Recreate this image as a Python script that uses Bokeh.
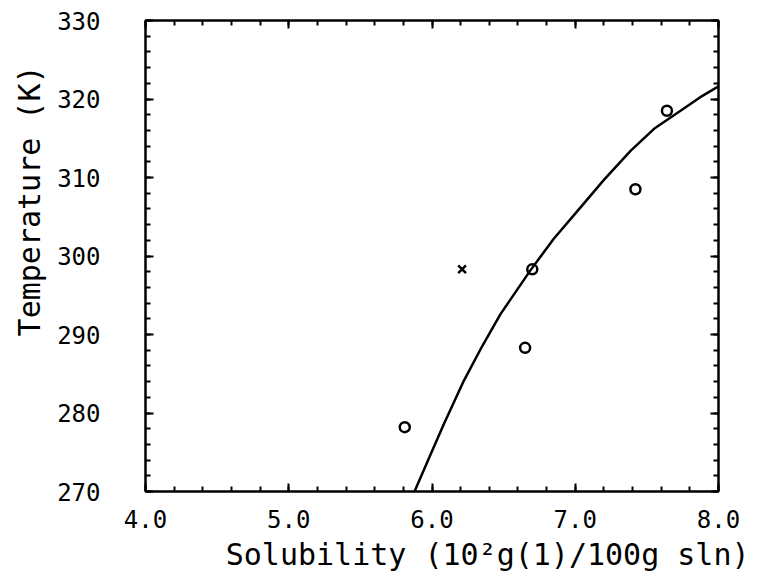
from bokeh.plotting import figure
from bokeh.models import (Range1d, LinearAxis, SingleIntervalTicker, PrintfTickFormatter,
                          CustomJSTickFormatter, Title)
from bokeh.embed import file_html
from bokeh.resources import INLINE

# data
circ_x = [5.81, 6.65, 6.70, 7.42, 7.64]
circ_y = [278.2, 288.3, 298.3, 308.5, 318.5]
cross_x = [6.21]
cross_y = [298.3]
curve_x = [5.878, 5.98, 6.083, 6.222, 6.35, 6.478, 6.688, 6.85, 7.037, 7.2, 7.386, 7.55, 7.735, 7.87, 8.0]
curve_y = [270.0, 274.3, 278.6, 284.1, 288.5, 292.6, 298.2, 302.2, 306.2, 309.7, 313.4, 316.2, 318.5, 320.2, 321.6]

x_title = "Solubility (10\u00b2g(1)/100g sln)"
y_title = "Temperature (K)"

FONT = "DejaVu Sans Mono"

p = figure(width=764, height=578, output_backend="svg", toolbar_location=None,
           x_range=Range1d(4.0, 8.0), y_range=Range1d(270, 330),
           x_axis_location=None, y_axis_location=None,
           min_border_left=145, min_border_right=46, min_border_top=20, min_border_bottom=87)
p.grid.visible = False
p.outline_line_color = None
p.background_fill_color = "white"
p.border_fill_color = "white"

def make_axis(kind, labels):
    if kind == "x":
        ax = LinearAxis(ticker=SingleIntervalTicker(interval=1.0, num_minor_ticks=5),
                        formatter=PrintfTickFormatter(format="%.1f"))
    else:
        ax = LinearAxis(ticker=SingleIntervalTicker(interval=10, num_minor_ticks=5))
    ax.axis_line_width = 2.5
    ax.axis_line_color = "black"
    ax.major_tick_in = 8
    ax.major_tick_out = 0
    ax.minor_tick_in = 5
    ax.minor_tick_out = 0
    ax.major_tick_line_width = 2
    ax.minor_tick_line_width = 2
    ax.major_label_text_font = FONT
    ax.major_label_text_color = "black"
    ax.major_label_text_font_size = "24px"
    if not labels:
        ax.formatter = CustomJSTickFormatter(code="return ''")
        ax.major_label_standoff = 0
    return ax

xb = make_axis("x", True)
xb.major_label_standoff = 18
p.add_layout(xb, "below")

yl = make_axis("y", True)
yl.major_label_standoff = 45
p.add_layout(yl, "left")

p.add_layout(make_axis("x", False), "above")
p.add_layout(make_axis("y", False), "right")

p.line(curve_x, curve_y, line_color="black", line_width=2.5)
p.scatter(circ_x, circ_y, marker="circle", size=10, fill_color=None, line_color="black", line_width=2.5)
p.scatter(cross_x, cross_y, marker="x", size=11, line_color="black", line_width=2.5)

# axis titles, off-centre as in the reference
tx = Title(text=x_title, text_font=FONT, text_font_size="30px", text_font_style="normal",
           text_color="black", align="right", offset=-31, standoff=9)
p.add_layout(tx, "below")
ty = Title(text=y_title, text_font=FONT, text_font_size="30px", text_font_style="normal",
           text_color="black", align="right", offset=45, standoff=16)
p.add_layout(ty, "left")

open("out.html", "w").write(file_html(p, INLINE))
